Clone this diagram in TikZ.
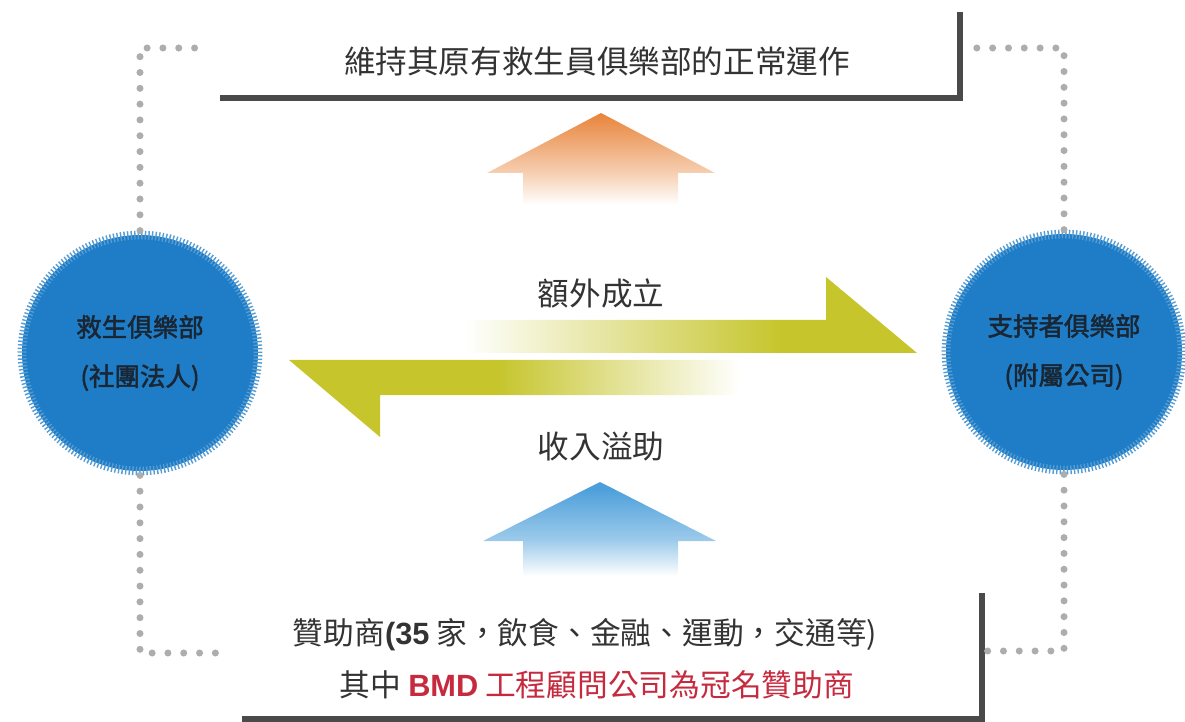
\documentclass[tikz,border=0pt]{standalone}
\usepackage{fontspec}
\setmainfont{Noto Sans CJK TC}
\newfontfamily\arial{Liberation Sans}
\newfontfamily\cjkheavy[FakeBold=2]{Noto Sans CJK TC}
\usepackage{tikz}
\usetikzlibrary{arrows.meta}
\definecolor{clubblue}{HTML}{1E7DC6}
\definecolor{clubtext}{HTML}{1A2633}
\definecolor{dotgray}{HTML}{ADADAD}
\definecolor{bargray}{HTML}{4A4A4A}
\definecolor{inkgray}{HTML}{333333}
\definecolor{leaf}{HTML}{C6C52C}
\definecolor{flame}{HTML}{E8843A}
\definecolor{sky}{HTML}{4C9FDA}
\definecolor{namered}{HTML}{C52A3F}
\pgfdeclarehorizontalshading{rightfade}{100bp}{color(0bp)=(white); color(25bp)=(white); color(60bp)=(leaf); color(100bp)=(leaf)}
\pgfdeclarehorizontalshading{leftfade}{100bp}{color(0bp)=(leaf); color(48bp)=(leaf); color(75bp)=(white); color(100bp)=(white)}
\pgfdeclareverticalshading{flamefade}{100bp}{color(0bp)=(white); color(30bp)=(white); color(46bp)=(flame!40); color(75bp)=(flame); color(100bp)=(flame)}
\pgfdeclareverticalshading{skyfade}{100bp}{color(0bp)=(white); color(28bp)=(white); color(46bp)=(sky!55); color(72bp)=(sky); color(100bp)=(sky)}
\tikzset{dotline/.style={dotgray,line width=4pt,line cap=round,dash pattern=on 0pt off 9pt},
  bar/.style={bargray,line width=3.4pt}}
\newcommand{\clubnode}{\node[circle,minimum size=4.72cm,fill=clubblue,draw=clubblue!75,line width=5pt,dash pattern=on 0.8pt off 1.2pt,align=center,text=clubtext,font=\cjkheavy\fontsize{14.5}{28}\selectfont]}
\newcommand{\textnode}{\node[text=inkgray,font=\fontsize{18}{22}\selectfont]}

\begin{document}
\begin{tikzpicture}[x=0.02cm,y=-0.02cm]
      \useasboundingbox (0,0) rectangle (1185,722);
      \clubnode (club) at (140,353) {救生俱樂部\\(社團法人)}; % 
      \clubnode (support) at (1064,352) {支持者俱樂部\\(附屬公司)}; % 
      \textnode (goal) at (597,62) {維持其原有救生員俱樂部的正常運作}; % 
      \textnode (fwd) at (601,293) {額外成立};
      \textnode (back) at (601,447) {收入溢助};
      \textnode (sponsor) at (585,635) {\fontsize{17.5}{22}\selectfont 贊助商{\arial\bfseries(35} 家，飲食、金融、運動，交通等)};
      \textnode (naming) at (597,685) {\fontsize{17.5}{22}\selectfont 其中 {\color{namered}{\arial\bfseries BMD} 工程顧問公司為冠名贊助商}};
      \coordinate (goalcorner) at (960,98);
      \coordinate (namecorner) at (982,719);
      \coordinate (tlend) at (205,48);
      \coordinate (trend) at (963,48);
      \coordinate (blend) at (228,653);
      \coordinate (brend) at (982,651);
      % brackets
      \draw[bar] (220,98) -- (goalcorner) -- (960,12);
      \draw[bar] (982,593) -- (namecorner) -- (242,719);
      % dotted links
      \draw[dotline] (club.north) |- (tlend);
      \draw[dotline] (support.north) |- (trend);
      \draw[dotline] (club.south) |- (blend);
      \draw[dotline] (support.south) |- (brend);
      % arrows
      \shade[shading=rightfade] (465,320) -- (826,320) -- (826,277) -- (917,353) -- (465,353) -- cycle;
      \shade[shading=leftfade] (740,360) -- (289,360) -- (380,437) -- (380,395) -- (740,395) -- cycle;
      \shade[shading=flamefade] (523,215) -- (523,173) -- (487,173) -- (601,113) -- (715,173) -- (678,173) -- (678,215) -- cycle;
      \shade[shading=skyfade] (523,582) -- (523,541) -- (483,541) -- (600,482) -- (716,541) -- (678,541) -- (678,582) -- cycle;
\end{tikzpicture}
\end{document}
